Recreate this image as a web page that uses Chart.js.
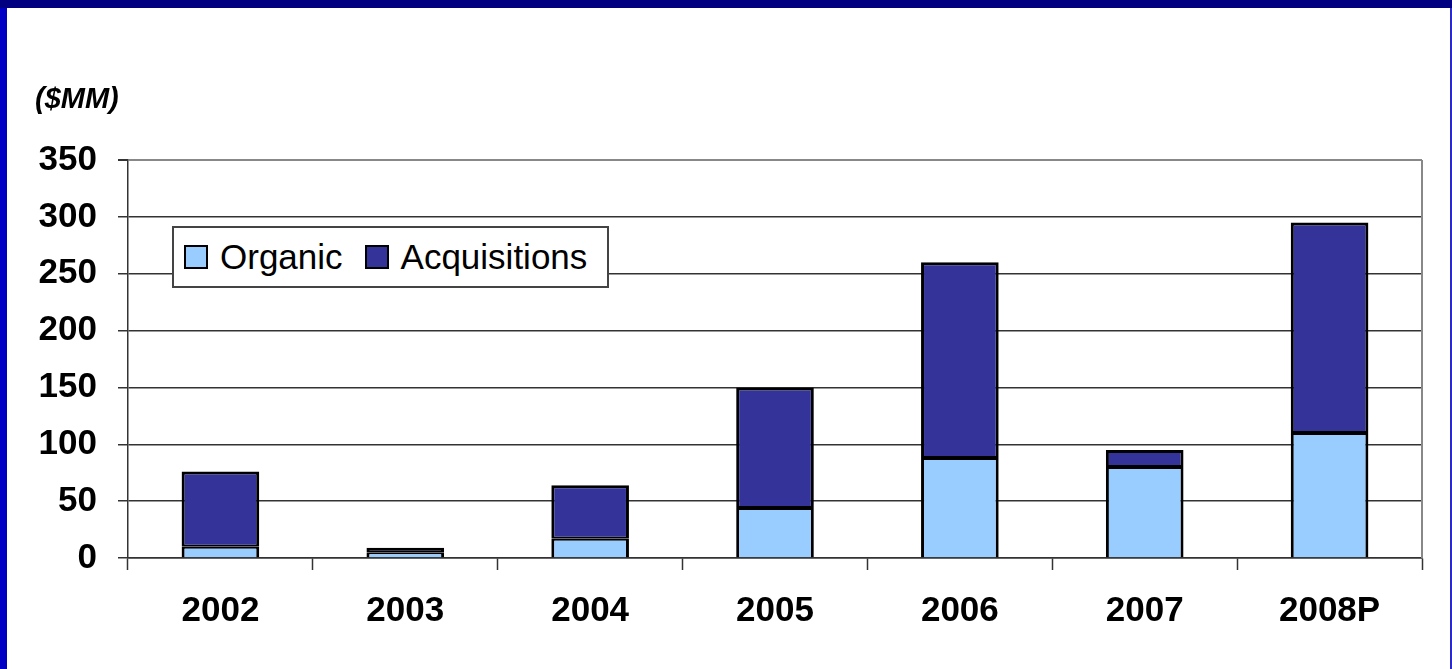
<!DOCTYPE html>
<html>
<head>
<meta charset="utf-8">
<script src="https://cdn.jsdelivr.net/npm/chart.js@4"></script>
<style>
  html, body { margin: 0; padding: 0; background: #ffffff; }
  #wrap { position: relative; width: 1452px; height: 669px; overflow: hidden; background: #fff; font-family: "Liberation Sans", Arial, sans-serif; }
  #wrap canvas { position: absolute; left: 0; top: 0; }
  .bTop { position: absolute; left: 0; top: 0; width: 1452px; height: 8px; background: #000080; }
  .bLeft { position: absolute; left: 0; top: 8px; width: 7px; height: 661px; background: #0000c4; }
  .bRight { position: absolute; right: 0; top: 8px; width: 2px; height: 661px; background: #2a2ac8; }
  #unit { position: absolute; left: 35px; top: 82px; font: italic bold 29px "Liberation Sans", Arial, sans-serif; color: #000; }
  #legend { position: absolute; left: 172px; top: 226px; width: 423px; height: 58px; border: 2px solid #444; background: #fff;
            display: flex; align-items: center; padding-left: 10px; box-sizing: content-box; }
  .item { display: flex; align-items: center; margin-right: 22px; font: 35px "Liberation Sans", Arial, sans-serif; color: #000; }
  .sw { width: 20px; height: 20px; border: 2px solid #000; margin-right: 12px; }
</style>
</head>
<body>
<div id="wrap">
  <canvas id="c" width="1452" height="669"></canvas>
  <div class="bTop"></div><div class="bLeft"></div><div class="bRight"></div>
  <div id="unit">($MM)</div>
  <div id="legend"></div>
</div>
<script>
const categories = ["2002", "2003", "2004", "2005", "2006", "2007", "2008P"];
const seriesNames = ["Organic", "Acquisitions"];
const organic = [10, 5, 17, 44, 88, 80, 110];
const acquisitions = [66, 4, 47, 106, 172, 15, 185];
const unitLabel = "($MM)";
const yMin = 0, yMax = 350, yStep = 50;
const colors = ["#99CCFF", "#333399"];

document.getElementById('unit').textContent = unitLabel;
const legend = document.getElementById('legend');
seriesNames.forEach((n, i) => {
  const it = document.createElement('div'); it.className = 'item';
  const sw = document.createElement('div'); sw.className = 'sw'; sw.style.background = colors[i];
  const tx = document.createElement('span'); tx.textContent = n;
  it.appendChild(sw); it.appendChild(tx); legend.appendChild(it);
});

const rightBorder = {
  id: 'rightBorder',
  afterDraw(chart) {
    const a = chart.chartArea, ctx = chart.ctx;
    ctx.save();
    ctx.strokeStyle = '#888888'; ctx.lineWidth = 2;
    ctx.beginPath(); ctx.moveTo(a.right, a.top); ctx.lineTo(a.right, a.bottom); ctx.stroke();
    ctx.restore();
  }
};

const tickFont = { family: 'Liberation Sans', size: 35, weight: 'bold' };

new Chart(document.getElementById('c'), {
  type: 'bar',
  data: {
    labels: categories,
    datasets: [
      { label: seriesNames[0], data: organic, backgroundColor: colors[0], borderColor: '#000',
        borderWidth: { top: 2, left: 3, right: 3, bottom: 0 }, borderSkipped: false, inflateAmount: 0, barPercentage: 0.42, categoryPercentage: 1 },
      { label: seriesNames[1], data: acquisitions, backgroundColor: colors[1], borderColor: '#000',
        borderWidth: { top: 3, left: 3, right: 3, bottom: 2 }, borderSkipped: false, inflateAmount: 0, barPercentage: 0.42, categoryPercentage: 1 }
    ]
  },
  options: {
    responsive: false,
    animation: false,
    layout: { padding: { left: 0, right: 30, top: 160, bottom: 0 } },
    plugins: { legend: { display: false }, tooltip: { enabled: false } },
    scales: {
      x: {
        stacked: true,
        grid: { offset: true, drawOnChartArea: false, tickLength: 12, tickColor: '#333', tickWidth: 1.5 },
        border: { color: '#333', width: 1.5 },
        ticks: { color: '#000', font: tickFont, padding: 20, maxRotation: 0 },
        afterFit(s) { s.height = 111; }
      },
      y: {
        stacked: true,
        min: yMin, max: yMax,
        ticks: { stepSize: yStep, color: '#000', font: tickFont, padding: 21 },
        grid: { tickLength: 10, color: c => (c.tick && c.tick.value === yMax) ? '#888' : '#333', lineWidth: c => (c.tick && c.tick.value === yMax) ? 2 : 1.5, tickColor: '#333' },
        border: { color: '#333', width: 1.5 },
        afterFit(s) { s.width = 128; }
      }
    }
  },
  plugins: [rightBorder]
});
</script>
</body>
</html>
